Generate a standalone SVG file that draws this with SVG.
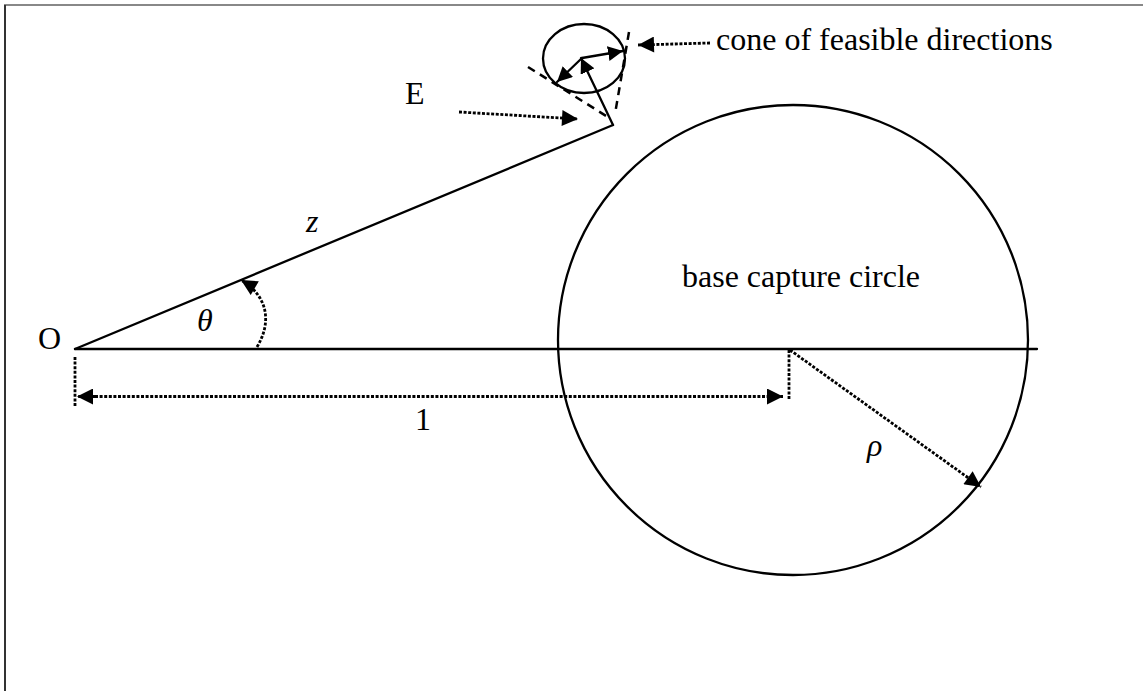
<svg xmlns="http://www.w3.org/2000/svg" width="1143" height="691" viewBox="0 0 1143 691">
<style>
.solid{fill:none;stroke:#000;stroke-width:2.3;stroke-linecap:round}
.dot{fill:none;stroke:#000;stroke-width:2.8;stroke-dasharray:3 1.6}
.dash{fill:none;stroke:#000;stroke-width:2.5;stroke-dasharray:8 6}
.t{font-family:"Liberation Serif","Times New Roman",serif;font-size:32px;fill:#000}
.i{font-style:italic}
</style>
<defs>
<marker id="ah" viewBox="0 0 16 16" refX="16" refY="8" markerWidth="17" markerHeight="16" markerUnits="userSpaceOnUse" orient="auto"><path d="M0,0 L16,8 L0,16 z" fill="#000"/></marker>
<marker id="ahs" viewBox="0 0 16 16" refX="16" refY="8" markerWidth="15" markerHeight="15" markerUnits="userSpaceOnUse" orient="auto"><path d="M0,0 L16,8 L0,16 z" fill="#000"/></marker>
</defs>
<rect width="1143" height="691" fill="#fff"/>
<g id="frame">
<line x1="4" y1="5" x2="1143" y2="5" stroke="#888" stroke-width="2"/>
<line x1="5" y1="5" x2="5" y2="691" stroke="#333" stroke-width="2"/>
</g>
<g id="base-circle">
<circle cx="793" cy="340" r="235" class="solid"/>
<text class="t" x="682" y="287">base capture circle</text>
</g>
<g id="feasible-cone">
<ellipse cx="584" cy="58.5" rx="41" ry="34.5" class="solid"/>
<line x1="528" y1="67" x2="611" y2="119" class="dash"/>
<line x1="629" y1="32" x2="615" y2="114" class="dash"/>
</g>
<g id="labels">
<text class="t" x="38" y="349" font-size="30">O</text>
<text class="t i" x="197" y="331">θ</text>
<text class="t i" x="306" y="232">z</text>
<text class="t" x="405" y="104">E</text>
<text class="t" x="415" y="430">1</text>
<text class="t i" x="867" y="456">ρ</text>
<text class="t" x="716" y="50">cone of feasible directions</text>
</g>
<g id="connectors">
<line x1="75" y1="349" x2="1037" y2="349" class="solid"/>
<line x1="75" y1="349" x2="613" y2="125" class="solid"/>
<line x1="613" y1="125" x2="581" y2="58" class="solid" marker-end="url(#ahs)"/>
<line x1="582" y1="58" x2="623" y2="51" class="solid" marker-end="url(#ahs)"/>
<line x1="582" y1="58" x2="557" y2="82" class="solid" marker-end="url(#ahs)"/>
<line x1="75" y1="357" x2="75" y2="407" class="dot"/>
<line x1="789" y1="350" x2="789" y2="399" class="dot"/>
<line x1="95" y1="396.5" x2="77" y2="396.5" class="dot" marker-end="url(#ah)"/>
<line x1="95" y1="396.5" x2="783" y2="396.5" class="dot" marker-end="url(#ah)"/>
<line x1="790" y1="350" x2="981" y2="487" class="dot" marker-end="url(#ah)"/>
<path d="M257,347 C272,322 268,296 241,280" class="dot" marker-end="url(#ah)"/>
<line x1="710" y1="43" x2="638" y2="45" class="dot" marker-end="url(#ah)"/>
<line x1="459" y1="112" x2="578" y2="119" class="dot" marker-end="url(#ah)"/>
</g>
</svg>
